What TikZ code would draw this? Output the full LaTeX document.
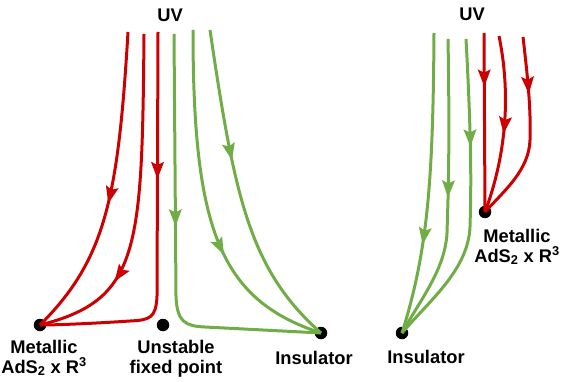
\documentclass[tikz,border=0pt]{standalone}
\usepackage{fontspec}
\setmainfont{Liberation Sans}
\usepackage{tikz}
\usetikzlibrary{arrows.meta,decorations.markings}

\definecolor{flowred}{RGB}{204,0,0}
\definecolor{flowgreen}{RGB}{112,173,71}

\tikzset{
  flowarrow/.style={postaction={decorate},
    decoration={markings, mark=at position #1 with {\arrow{Stealth[length=17pt,width=12.5pt,inset=3pt]}}}},
  redflow/.style={draw=flowred, line width=3pt, line join=round, flowarrow=#1},
  greenflow/.style={draw=flowgreen, line width=3pt, line join=round, flowarrow=#1},
  fixpt/.style={circle, fill=black, inner sep=0pt, minimum size=12.5pt},
  lbl/.style={anchor=base, align=center, inner sep=0pt, font=\bfseries\fontsize{18.3}{19.5}\selectfont}
}

\begin{document}
\begin{tikzpicture}[x=1pt,y=-1pt]
\useasboundingbox (0,0) rectangle (569,382);

% fixed points, left panel
\node[fixpt] (metL) at (40,325) {};
\node[fixpt] (unst) at (163,325) {};
\node[fixpt] (insL) at (321,333) {};
% fixed points, right panel
\node[fixpt] (metR) at (485,212) {};
\node[fixpt] (insR) at (402,333) {};

% UV ends of the flows
\coordinate (uvA) at (128,32);
\coordinate (uvB) at (144,34);
\coordinate (uvC) at (158,32);
\coordinate (uvD) at (174,34);
\coordinate (uvE) at (193,30);
\coordinate (uvF) at (210,30);
\coordinate (uvG) at (434,33);
\coordinate (uvH) at (448,39);
\coordinate (uvI) at (466,39);
\coordinate (uvJ) at (484,33);
\coordinate (uvK) at (499,36);
\coordinate (uvL) at (523,37);

% left panel: flows into the metallic point
\draw[redflow=0.55] (uvA) .. controls (118,200) and (105,260) .. (metL.center);
\draw[redflow=0.74] (uvB) .. controls (142,250) and (140,300) .. (metL.center);
\draw[redflow=0.37] (uvC) -- (157,296) .. controls (156,318) and (150,320) .. (130,321)
  .. controls (100,323) and (60,325) .. (metL.center);

% left panel: flows into the insulator
\draw[greenflow=0.45] (uvD) -- (176,296) .. controls (177,322) and (185,326) .. (205,327) -- (insL.center);
\draw[greenflow=0.64] (uvE) .. controls (193,230) and (220,300) .. (insL.center);
\draw[greenflow=0.40] (uvF) .. controls (235,200) and (250,270) .. (insL.center);

% right panel: flows into the insulator
\draw[greenflow=0.70] (uvG) .. controls (433,180) and (428,250) .. (insR.center);
\draw[greenflow=0.52] (uvH) .. controls (450,150) and (448,200) .. (447,233)
  .. controls (445,270) and (420,300) .. (insR.center);
\draw[greenflow=0.34] (uvI) .. controls (472,150) and (471,190) .. (470,227)
  .. controls (468,270) and (430,300) .. (insR.center);

% right panel: flows into the metallic point
\draw[redflow=0.30] (uvJ) -- (metR.center);
\draw[redflow=0.55] (uvK) .. controls (510,90) and (508,150) .. (metR.center);
\draw[redflow=0.30] (uvL) .. controls (528,80) and (531,110) .. (530,140)
  .. controls (529,170) and (505,190) .. (metR.center);

% labels
\node[lbl] (uvLeft) at (170,22) {UV};
\node[lbl] (uvRight) at (472,21) {UV};
\node[lbl] (metLlbl) at (44,373) {Metallic\\AdS\textsubscript{2} x R\textsuperscript{3}};
\node[lbl] (unstlbl) at (176,373) {Unstable\\fixed point};
\node[lbl] (insLlbl) at (314,364) {Insulator};
\node[lbl] (metRlbl) at (517,262) {Metallic\\AdS\textsubscript{2} x R\textsuperscript{3}};
\node[lbl] (insRlbl) at (426,363) {Insulator};

\end{tikzpicture}
\end{document}
